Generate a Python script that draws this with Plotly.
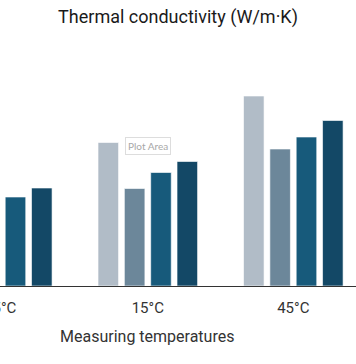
import plotly.graph_objects as go

categories = ["-5°C", "15°C", "45°C"]
series_names = ["Sample 1", "Sample 2", "Sample 3", "Sample 4"]
sample1 = [0.0262, 0.0287, 0.0380]
sample2 = [0.0170, 0.0195, 0.0274]
sample3 = [0.0178, 0.0227, 0.0298]
sample4 = [0.0196, 0.0249, 0.0331]
colors = ["#b1bcc7", "#6c879a", "#175a7b", "#134866"]

W, H = 356, 364
mt, mb = 36, 78

fig = go.Figure()
for name, vals, col in zip(series_names, [sample1, sample2, sample3, sample4], colors):
    fig.add_trace(go.Bar(x=categories, y=vals, name=name, hoverinfo="skip",
                         marker=dict(color=col, line=dict(color="rgba(255,255,255,0.6)", width=1))))

fig.update_layout(
    width=W, height=H,
    margin=dict(l=0, r=0, t=mt, b=mb, autoexpand=False),
    paper_bgcolor="white", plot_bgcolor="white",
    barmode="group", bargap=0.276, bargroupgap=0.22,
    showlegend=False,
    font=dict(family="Roboto", color="#333333"),
    title=dict(text="Thermal conductivity (W/m·K)", x=0.5, xanchor="center",
               y=1 - 17 / H, yanchor="middle", yref="container",
               font=dict(family="Roboto", size=18, color="#1a1a1a")),
    xaxis=dict(range=[-0.0158, 2.4309], showline=True, linecolor="#333333", linewidth=1,
               showgrid=False, ticks="", ticklabelstandoff=8, automargin=False,
               tickfont=dict(size=15, color="#333333"), fixedrange=True),
    yaxis=dict(range=[0, 0.05], visible=False, showgrid=False, automargin=False, fixedrange=True),
)

ph = H - mt - mb
fig.add_annotation(text="Measuring temperatures", xref="paper", yref="paper",
                   x=146.5 / W, y=(286 - 336) / ph, xanchor="center", yanchor="middle",
                   showarrow=False, font=dict(family="Roboto", size=16, color="#333333"))
fig.add_annotation(text="Plot Area", xref="paper", yref="paper",
                   x=147.5 / W, y=(286 - 146) / ph, xanchor="center", yanchor="middle",
                   showarrow=False, font=dict(family="Lato", size=10, color="#a8a8a8"),
                   bgcolor="white", bordercolor="#dddddd", borderwidth=1, borderpad=2)

fig.write_html("out.html", config={"displayModeBar": False},
               post_script="document.body.style.margin='0';document.body.style.overflow='hidden';")
